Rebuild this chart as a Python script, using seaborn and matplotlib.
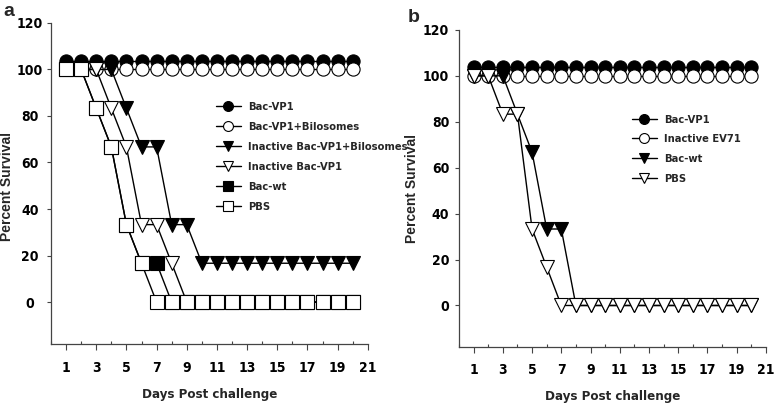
import matplotlib
matplotlib.use("Agg")
import matplotlib.pyplot as plt
import pandas as pd
import seaborn as sns
from matplotlib.ticker import MultipleLocator

days = list(range(1, 21))

# panel a
a_bac_vp1 = [103.5] * 20
a_bac_vp1_bilo = [100] * 20
a_inact_bac_vp1_bilo = [100, 100, 100, 100, 83.3, 66.7, 66.7, 33.3, 33.3] + [16.7] * 11
a_inact_bac_vp1 = [100, 100, 100, 83.3, 66.7, 33.3, 33.3, 16.7] + [0] * 12
a_bac_wt = [100, 100, 83.3, 66.7, 33.3, 16.7, 16.7] + [0] * 13
a_pbs = [100, 100, 83.3, 66.7, 33.3, 16.7] + [0] * 14

# panel b
b_bac_vp1 = [104] * 20
b_inact_ev71 = [100] * 20
b_bac_wt = [100, 100, 100, 83.3, 66.7, 33.3, 33.3] + [0] * 13
b_pbs = [100, 100, 83.3, 83.3, 33.3, 16.7] + [0] * 14

sns.set_style("white")
plt.rcParams['font.family'] = ['DejaVu Sans']
plt.rcParams['font.stretch'] = 'condensed'
plt.rcParams['font.weight'] = 'bold'

fig = plt.figure(figsize=(7.76, 4.09), dpi=100)
ax1 = fig.add_axes([0.0657, 0.159, 0.4083, 0.785])
ax2 = fig.add_axes([0.5915, 0.152, 0.3955, 0.775])

series_a = [
    ("Bac-VP1", a_bac_vp1, "o", "black"),
    ("Bac-VP1+Bilosomes", a_bac_vp1_bilo, "o", "white"),
    ("Inactive Bac-VP1+Bilosomes", a_inact_bac_vp1_bilo, "v", "black"),
    ("Inactive Bac-VP1", a_inact_bac_vp1, "v", "white"),
    ("Bac-wt", a_bac_wt, "s", "black"),
    ("PBS", a_pbs, "s", "white"),
]
series_b = [
    ("Bac-VP1", b_bac_vp1, "o", "black"),
    ("Inactive EV71", b_inact_ev71, "o", "white"),
    ("Bac-wt", b_bac_wt, "v", "black"),
    ("PBS", b_pbs, "v", "white"),
]


def draw(ax, series, leg_anchor, leg_sp):
    for name, vals, mk, fc in series:
        df = pd.DataFrame({"day": days, "survival": vals})
        sns.lineplot(df, x="day", y="survival", ax=ax, color="black", lw=1,
                     marker=mk, markersize=9.5, markerfacecolor=fc,
                     markeredgecolor="black", markeredgewidth=0.8, label=name)
    ax.set_xlim(0, 21)
    ax.set_ylim(-18, 120)
    ax.set_yticks([0, 20, 40, 60, 80, 100, 120])
    ax.set_xticks(range(1, 22, 2))
    ax.xaxis.set_minor_locator(MultipleLocator(1))
    ax.tick_params(axis="x", which="major", direction="out", length=4, width=0.8,
                   pad=8, labelsize=10, bottom=True, colors="#444444")
    ax.tick_params(axis="x", which="minor", direction="in", length=2, width=0.8,
                   bottom=True, colors="#444444")
    ax.tick_params(axis="y", direction="out", length=3, width=0.8, pad=4,
                   labelsize=10, left=True, colors="#444444")
    for lab in ax.get_xticklabels() + ax.get_yticklabels():
        lab.set_fontweight("bold")
        lab.set_fontstretch("condensed")
        lab.set_color("black")
    for s in ["top", "right"]:
        ax.spines[s].set_visible(False)
    for s in ["left", "bottom"]:
        ax.spines[s].set_color("#444444")
        ax.spines[s].set_linewidth(0.9)
    ax.set_xlabel("Days Post challenge", fontsize=9.5, fontweight="bold",
                  fontstretch="condensed")
    ax.set_ylabel("Percent Survival", fontsize=10, fontweight="bold",
                  family=["Liberation Sans", "DejaVu Sans"])
    ax.legend(loc="upper left", bbox_to_anchor=leg_anchor, bbox_transform=fig.transFigure,
              frameon=False, handlelength=2.3, handletextpad=0.6,
              labelspacing=leg_sp, borderpad=0, markerscale=0.75,
              prop={"weight": "bold", "size": 8, "stretch": "condensed",
                    "family": "DejaVu Sans"})


draw(ax1, series_a, (210 / 776, 1 - 96 / 409), 0.9)
draw(ax2, series_b, (626 / 776, 1 - 109 / 409), 0.87)

# panel a y tick labels sit centred in the reference
ax1.tick_params(axis="y", pad=12)
for lab in ax1.get_yticklabels():
    lab.set_horizontalalignment("center")

ax1.xaxis.set_label_coords(0.5, -0.137)
ax2.xaxis.set_label_coords(0.5, -0.136)
ax1.yaxis.set_label_coords(-0.117, 0.49)
ax2.yaxis.set_label_coords(-0.13, 0.5)

fig.text(3 / 776, 1 - 3 / 409, "a", fontsize=14, fontweight="bold", va="top",
         family=["Liberation Sans", "DejaVu Sans"])
fig.text(408 / 776, 1 - 9 / 409, "b", fontsize=14, fontweight="bold", va="top",
         family=["Liberation Sans", "DejaVu Sans"])

plt.savefig("out.png", dpi=100)
plt.close()
